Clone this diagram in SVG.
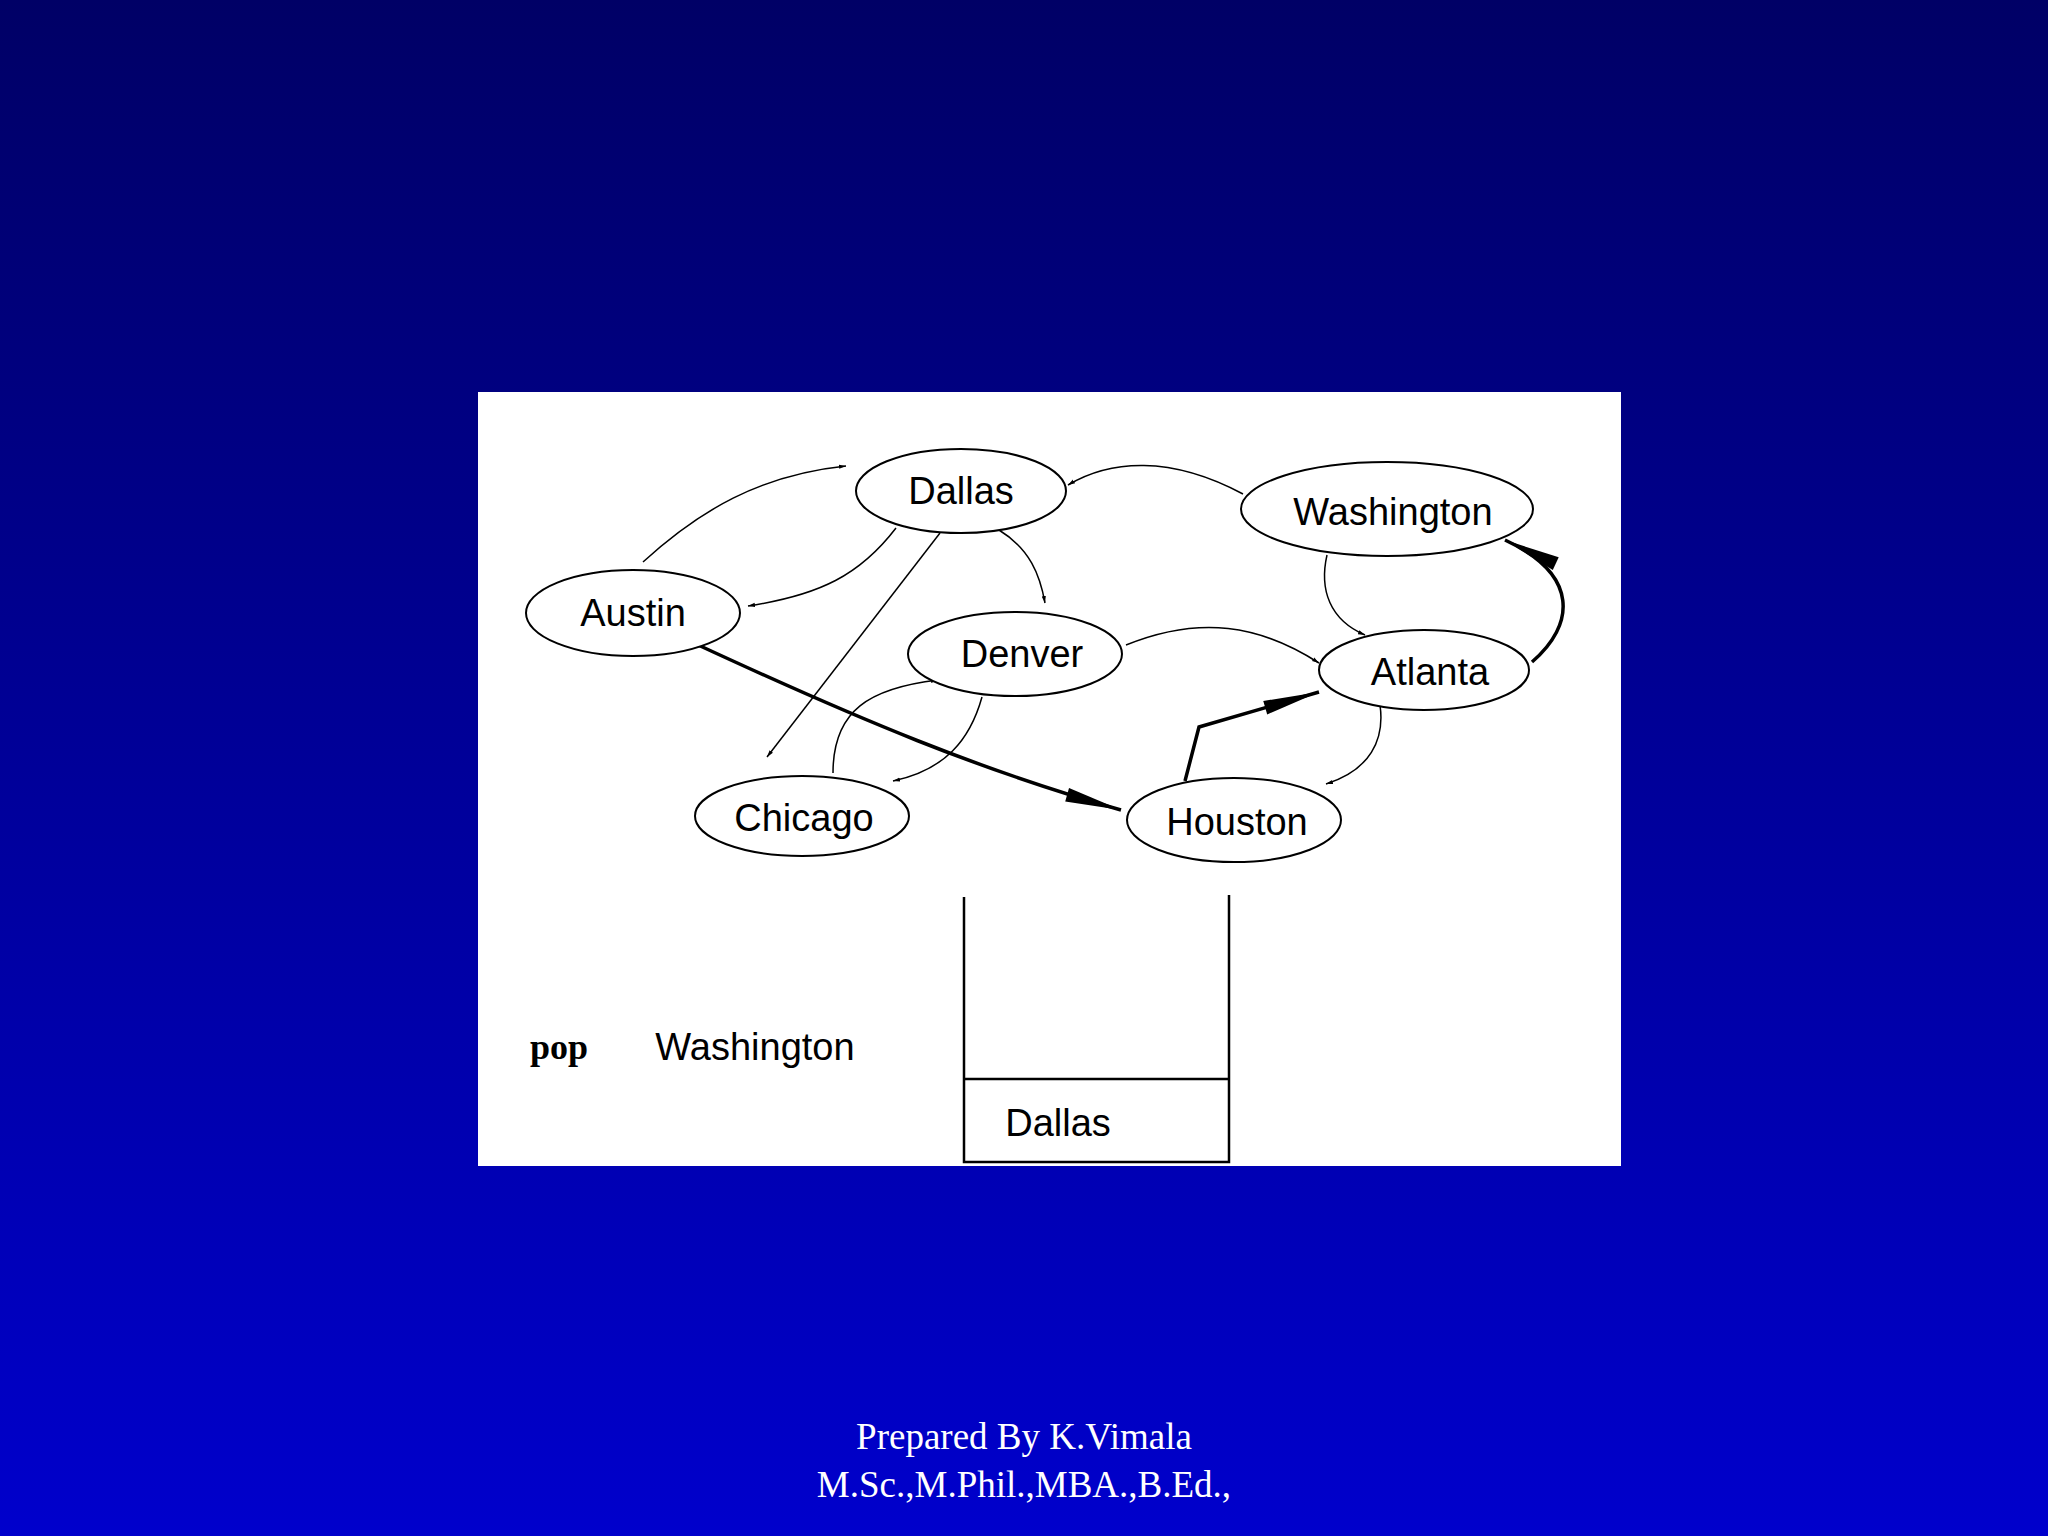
<svg xmlns="http://www.w3.org/2000/svg" width="2048" height="1536" viewBox="0 0 2048 1536">
<defs>
<linearGradient id="bg" x1="0" y1="0" x2="0" y2="1"><stop offset="0" stop-color="#000066"/><stop offset="1" stop-color="#0000CC"/></linearGradient>
<marker id="a" viewBox="0 0 10 10" refX="10" refY="5" markerWidth="7" markerHeight="7" markerUnits="userSpaceOnUse" orient="auto"><path d="M0,2 L10,5 L0,8 z" fill="#000"/></marker>
<marker id="a2" viewBox="0 0 10 10" refX="10" refY="5" markerWidth="14" markerHeight="14" markerUnits="userSpaceOnUse" orient="auto" style="overflow:visible"><path d="M-30,0 L10,5 L-30,10 z" fill="#000"/></marker>
</defs>
<style>
.n ellipse{fill:#fff;stroke:#000;stroke-width:2}
.n text,.t{font-family:"Liberation Sans",Arial,sans-serif;font-size:38px;text-anchor:middle;dominant-baseline:central;fill:#000}
.e{fill:none;stroke:#000;stroke-width:1.5;marker-end:url(#a)}
.th{fill:none;stroke:#000;stroke-width:3.5;marker-end:url(#a2)}
.f{font-family:"Liberation Serif","Times New Roman",serif;font-size:37px;fill:#fff;text-anchor:middle}
</style>
<rect width="2048" height="1536" fill="url(#bg)"/>
<rect x="478" y="392" width="1143" height="774" fill="#fff"/>
<g id="connectors">
<path class="e" d="M643,562 C700,510 760,475 846,466"/>
<path class="e" d="M896,528 C860,575 820,595 748,606"/>
<path class="e" d="M940,533 L767,757"/>
<path class="e" d="M999,530 C1030,549 1040,575 1045,603"/>
<path class="e" d="M1243,494 C1170,455 1110,460 1068,485"/>
<path class="e" d="M1327,555 C1319,590 1330,620 1365,635"/>
<path class="th" d="M1532,662 C1575,625 1580,575 1505,540"/>
<path class="e" d="M1126,645 C1200,615 1260,625 1319,663"/>
<path class="e" d="M1380,705 C1385,740 1370,770 1326,784"/>
<path class="th" d="M1185,781 L1199,727 L1319,692"/>
<path class="th" d="M696,644 C860,720 980,770 1121,810"/>
<path class="e" d="M833,773 C833,710 870,688 938,680"/>
<path class="e" d="M982,697 C970,740 945,770 893,781"/>
</g>
<g id="Dallas" class="n"><ellipse cx="961" cy="491" rx="105" ry="42"/><text x="961" y="491">Dallas</text></g>
<g id="Washington" class="n"><ellipse cx="1387" cy="509" rx="146" ry="47"/><text x="1393" y="512">Washington</text></g>
<g id="Austin" class="n"><ellipse cx="633" cy="613" rx="107" ry="43"/><text x="633" y="613">Austin</text></g>
<g id="Denver" class="n"><ellipse cx="1015" cy="654" rx="107" ry="42"/><text x="1022" y="654">Denver</text></g>
<g id="Atlanta" class="n"><ellipse cx="1424" cy="670" rx="105" ry="40"/><text x="1430" y="672">Atlanta</text></g>
<g id="Chicago" class="n"><ellipse cx="802" cy="816" rx="107" ry="40"/><text x="804" y="818">Chicago</text></g>
<g id="Houston" class="n"><ellipse cx="1234" cy="820" rx="107" ry="42"/><text x="1237" y="822">Houston</text></g>
<g id="stack" fill="none" stroke="#000" stroke-width="2.5">
<path d="M964,897 L964,1162 L1229,1162 L1229,895"/>
<path d="M964,1079 L1229,1079"/>
</g>
<text class="t" x="1058" y="1123">Dallas</text>
<text x="559" y="1047" font-family="'Liberation Serif',serif" font-weight="bold" font-size="36" text-anchor="middle" dominant-baseline="central">pop</text>
<text class="t" x="755" y="1047">Washington</text>
<text class="f" x="1024" y="1449">Prepared By K.Vimala</text>
<text class="f" x="1024" y="1497">M.Sc.,M.Phil.,MBA.,B.Ed.,</text>
</svg>
